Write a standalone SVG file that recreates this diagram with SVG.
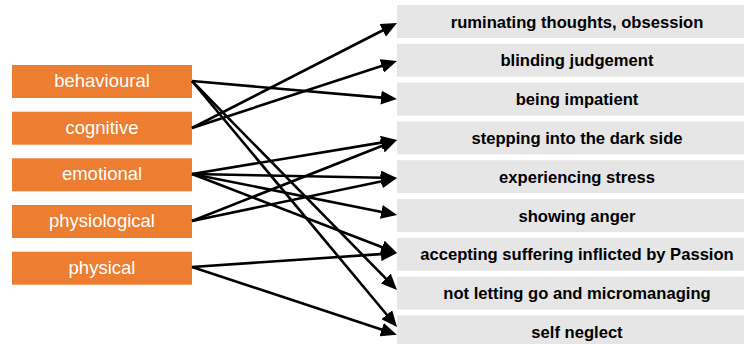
<svg xmlns="http://www.w3.org/2000/svg" width="744" height="344" viewBox="0 0 744 344">
<style>
.l{fill:#ED7D31}
.lt{fill:#ffffff;font-family:"Liberation Sans",Arial,sans-serif;font-size:18.5px;text-anchor:middle}
.r{fill:#E7E6E6}
.rt{fill:#000000;font-family:"Liberation Sans",Arial,sans-serif;font-size:16.6px;font-weight:bold;text-anchor:middle}
.c{stroke:#000;stroke-width:2.6;fill:none;marker-end:url(#ah)}
</style>
<defs>
<marker id="ah" markerUnits="userSpaceOnUse" markerWidth="17" markerHeight="14" refX="3" refY="7" orient="auto">
<path d="M0,0 L16,7 L0,14 z" fill="#000"/>
</marker>
</defs>
<rect width="744" height="344" fill="#ffffff"/>
<g id="behavioural"><rect class="l" x="12" y="65" width="180" height="33"/><text class="lt" x="102" y="87">behavioural</text></g>
<g id="cognitive"><rect class="l" x="12" y="111.7" width="180" height="33"/><text class="lt" x="102" y="133.7">cognitive</text></g>
<g id="emotional"><rect class="l" x="12" y="158.3" width="180" height="33"/><text class="lt" x="102" y="180.3">emotional</text></g>
<g id="physiological"><rect class="l" x="12" y="205" width="180" height="33"/><text class="lt" x="102" y="227">physiological</text></g>
<g id="physical"><rect class="l" x="12" y="251.7" width="180" height="33"/><text class="lt" x="102" y="273.7">physical</text></g>

<g id="ruminating"><rect class="r" x="397" y="5" width="360" height="33"/><text class="rt" x="577" y="27.5">ruminating thoughts, obsession</text></g>
<g id="blinding"><rect class="r" x="397" y="43.8" width="360" height="33"/><text class="rt" x="577" y="66.3">blinding judgement</text></g>
<g id="impatient"><rect class="r" x="397" y="82.6" width="360" height="33"/><text class="rt" x="577" y="105.1">being impatient</text></g>
<g id="stepping"><rect class="r" x="397" y="121.4" width="360" height="33"/><text class="rt" x="577" y="143.9">stepping into the dark side</text></g>
<g id="stress"><rect class="r" x="397" y="160.2" width="360" height="33"/><text class="rt" x="577" y="182.7">experiencing stress</text></g>
<g id="anger"><rect class="r" x="397" y="199" width="360" height="33"/><text class="rt" x="577" y="221.5">showing anger</text></g>
<g id="accepting"><rect class="r" x="397" y="237.8" width="360" height="33"/><text class="rt" x="577" y="260.3">accepting suffering inflicted by Passion</text></g>
<g id="notletting"><rect class="r" x="397" y="276.6" width="360" height="33"/><text class="rt" x="577" y="299.1">not letting go and micromanaging</text></g>
<g id="selfneglect"><rect class="r" x="397" y="315.4" width="360" height="33"/><text class="rt" x="577" y="337.9">self neglect</text></g>

<g id="connectors">
<line class="c" x1="192" y1="128" x2="385.4" y2="29.0"/>
<line class="c" x1="192" y1="128" x2="384.6" y2="65.0"/>
<line class="c" x1="192" y1="81" x2="384.0" y2="97.9"/>
<line class="c" x1="192" y1="81" x2="387.9" y2="280.7"/>
<line class="c" x1="192" y1="81" x2="388.7" y2="317.0"/>
<line class="c" x1="192" y1="174" x2="384.2" y2="142.1"/>
<line class="c" x1="192" y1="174" x2="384.0" y2="177.7"/>
<line class="c" x1="192" y1="174" x2="384.3" y2="212.4"/>
<line class="c" x1="192" y1="174" x2="384.9" y2="248.3"/>
<line class="c" x1="192" y1="221" x2="384.9" y2="144.8"/>
<line class="c" x1="192" y1="221" x2="384.3" y2="180.7"/>
<line class="c" x1="192" y1="267" x2="384.0" y2="253.9"/>
<line class="c" x1="192" y1="267" x2="384.5" y2="330.6"/>
</g>
</svg>
